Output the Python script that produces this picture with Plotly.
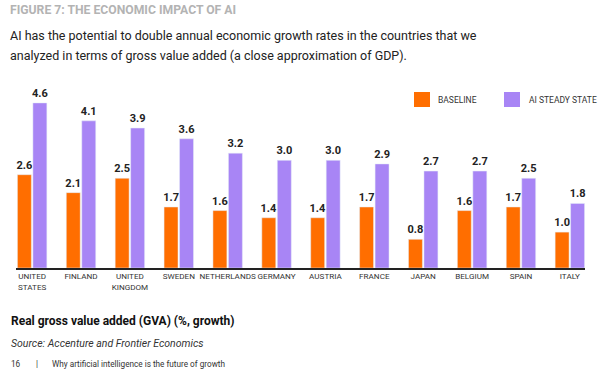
import plotly.graph_objects as go

countries = ["UNITED<br>STATES", "FINLAND", "UNITED<br>KINGDOM", "SWEDEN", "NETHERLANDS",
             "GERMANY", "AUSTRIA", "FRANCE", "JAPAN", "BELGIUM", "SPAIN", "ITALY"]
baseline = [2.6, 2.1, 2.5, 1.7, 1.6, 1.4, 1.4, 1.7, 0.8, 1.6, 1.7, 1.0]
ai_steady = [4.6, 4.1, 3.9, 3.6, 3.2, 3.0, 3.0, 2.9, 2.7, 2.7, 2.5, 1.8]
series_names = ["BASELINE", "AI STEADY STATE"]

ORANGE = "#FF6E00"
PURPLE = "#A885F5"
FONT = "Roboto"

fig = go.Figure()
label_font = dict(family=FONT, size=11, color="#222222", weight="bold")
fig.add_trace(go.Bar(x=countries, y=baseline, name=series_names[0], marker_color=ORANGE,
                     text=baseline, texttemplate="%{y:.1f}", textposition="outside",
                     constraintext="none", textfont=label_font, cliponaxis=False,
                     showlegend=False))
fig.add_trace(go.Bar(x=countries, y=ai_steady, name=series_names[1], marker_color=PURPLE,
                     text=ai_steady, texttemplate="%{y:.1f}", textposition="outside",
                     constraintext="none", textfont=label_font, cliponaxis=False,
                     showlegend=False))

L, R, T, B = 16, 22, 90, 115
W, H = 607, 383
pw = W - L - R
ph = H - T - B


def px(x):
    return (x - L) / pw


def py(y):
    return (H - B - y) / ph


anns = [
    dict(text="<b>FIGURE 7: THE ECONOMIC IMPACT OF AI</b>", x=px(8), y=py(10),
         font=dict(family=FONT, size=12.2, color="#b3b3b3")),
    dict(text="AI has the potential to double annual economic growth rates in the countries that we",
         x=px(8), y=py(36), font=dict(family=FONT, size=12.5, color="#222222")),
    dict(text="analyzed in terms of gross value added (a close approximation of GDP).",
         x=px(8), y=py(56), font=dict(family=FONT, size=12.5, color="#222222")),
    dict(text="<b>Real gross value added (GVA) (%, growth)</b>", x=px(9), y=py(321),
         font=dict(family=FONT, size=12, color="#111111")),
    dict(text="<i>Source: Accenture and Frontier Economics</i>", x=px(9), y=py(343),
         font=dict(family=FONT, size=10.5, color="#333333")),
    dict(text="16", x=px(9), y=py(364), font=dict(family=FONT, size=8.2, color="#333333")),
    dict(text="|", x=px(34), y=py(364), font=dict(family=FONT, size=8.2, color="#333333")),
    dict(text="Why artificial intelligence is the future of growth", x=px(50), y=py(364),
         font=dict(family=FONT, size=8.2, color="#333333")),
    # legend labels
    dict(text=series_names[0], x=px(436), y=py(100),
         font=dict(family=FONT, size=8.5, color="#333333")),
    dict(text=series_names[1], x=px(527), y=py(100),
         font=dict(family=FONT, size=8.5, color="#333333")),
]
for a in anns:
    a.update(xref="paper", yref="paper", xanchor="left", yanchor="middle", showarrow=False)

shapes = [
    dict(type="rect", xref="paper", yref="paper", x0=px(414), x1=px(430), y0=py(107), y1=py(92),
         fillcolor=ORANGE, line_width=0),
    dict(type="rect", xref="paper", yref="paper", x0=px(504), x1=px(520), y0=py(107), y1=py(92),
         fillcolor=PURPLE, line_width=0),
]

fig.update_layout(
    width=W, height=H,
    margin=dict(l=L, r=R, t=T, b=B, autoexpand=False),
    paper_bgcolor="white", plot_bgcolor="white",
    barmode="group", bargap=0.366, bargroupgap=0.1,
    font=dict(family=FONT, color="#333333"),
    showlegend=False,
    xaxis=dict(range=[-0.33, 11.31], showline=True, linecolor="#222222", linewidth=1.5,
               ticks="", tickangle=0, automargin=False,
               tickfont=dict(family=FONT, size=8.1, color="#333333"),
               showgrid=False, zeroline=False, fixedrange=True),
    yaxis=dict(range=[0, 4.96], visible=False, showgrid=False, zeroline=False, fixedrange=True),
    annotations=anns,
    shapes=shapes,
)

fig.write_html("out.html", config={"displayModeBar": False},
               post_script="document.body.style.margin='0';document.body.style.overflow='hidden';")
